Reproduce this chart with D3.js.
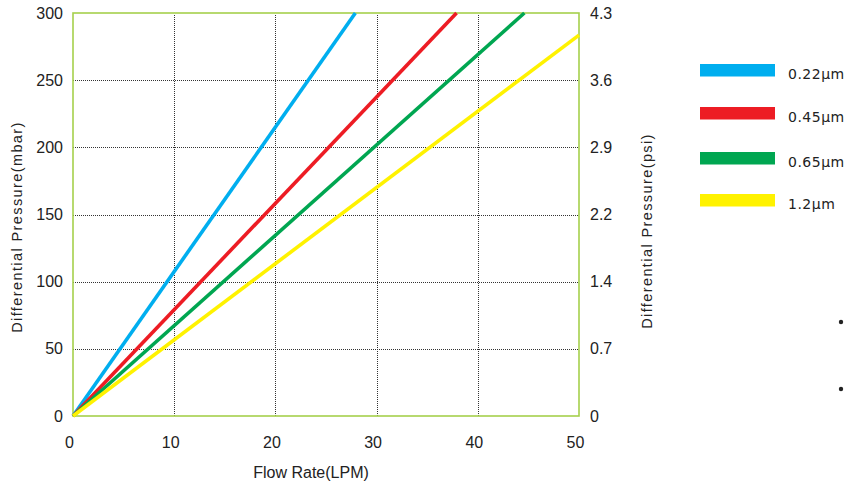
<!DOCTYPE html>
<html>
<head>
<meta charset="utf-8">
<script src="https://cdn.jsdelivr.net/npm/d3@7"></script>
<style>
  html, body { margin: 0; padding: 0; background: #fff; }
  svg { display: block; }
</style>
</head>
<body>
<svg id="chart" width="848" height="490"></svg>
<script>
// Flow rate (LPM) vs differential pressure (mbar) per filter pore size
const seriesNames = ["0.22μm", "0.45μm", "0.65μm", "1.2μm"];
const flow022 = [0, 27.9];   const dp022 = [0, 300];
const flow045 = [0, 37.9];   const dp045 = [0, 300];
const flow065 = [0, 44.6];   const dp065 = [0, 300];
const flow12  = [0, 50];     const dp12  = [0, 283.5];

const xTicks = [0, 10, 20, 30, 40, 50];
const yTicks = [0, 50, 100, 150, 200, 250, 300];
const psiLabels = ["0", "0.7", "1.4", "2.2", "2.9", "3.6", "4.3"];

const colors = ["#00aeef", "#ed1c24", "#00a651", "#fff200"];

const series = [
  { name: seriesNames[0], flow: flow022, dp: dp022 },
  { name: seriesNames[1], flow: flow045, dp: dp045 },
  { name: seriesNames[2], flow: flow065, dp: dp065 },
  { name: seriesNames[3], flow: flow12,  dp: dp12 }
];

const svg = d3.select("#chart");
const plotL = 73, plotR = 579, plotT = 13, plotB = 416;

const x = d3.scaleLinear().domain([0, 50]).range([plotL, plotR]);
const y = d3.scaleLinear().domain([0, 300]).range([plotB, plotT]);

const font = "'Liberation Sans', Arial, Helvetica, sans-serif";

// grid
const grid = svg.append("g");
grid.selectAll(".hg").data(yTicks.filter(v => v > 0 && v < 300)).enter()
  .append("line")
  .attr("x1", plotL).attr("x2", plotR)
  .attr("y1", d => Math.round(y(d)) + 0.5).attr("y2", d => Math.round(y(d)) + 0.5)
  .attr("stroke", "#333").attr("stroke-width", 1).attr("stroke-dasharray", "1,1");
grid.selectAll(".vg").data(xTicks.filter(v => v > 0 && v < 50)).enter()
  .append("line")
  .attr("y1", plotT + 2).attr("y2", plotB)
  .attr("x1", d => Math.round(x(d)) + 0.5).attr("x2", d => Math.round(x(d)) + 0.5)
  .attr("stroke", "#333").attr("stroke-width", 1).attr("stroke-dasharray", "1,1");

// frame
svg.append("rect")
  .attr("x", plotL).attr("y", plotT)
  .attr("width", plotR - plotL).attr("height", plotB - plotT)
  .attr("fill", "none").attr("stroke", "#a6d04c").attr("stroke-width", 1.6);

// lines
const line = d3.line().x(d => x(d[0])).y(d => y(d[1]));
svg.append("g").selectAll("path").data(series).enter()
  .append("path")
  .attr("d", s => line(s.flow.map((f, i) => [f, s.dp[i]])))
  .attr("fill", "none")
  .attr("stroke", (s, i) => colors[i])
  .attr("stroke-width", 3.6);

// axes
function styleAxis(g) {
  g.select(".domain").remove();
  g.selectAll("line").remove();
  g.selectAll("text").attr("font-family", font).attr("font-size", 16).attr("fill", "#222");
}
svg.append("g")
  .attr("transform", `translate(0,${plotB})`)
  .call(d3.axisBottom(x).tickValues(xTicks).tickSize(0).tickPadding(21).tickFormat(d3.format("d")))
  .call(styleAxis)
  .selectAll("text").attr("dx", -4);

svg.append("g")
  .attr("transform", `translate(${plotL},0)`)
  .call(d3.axisLeft(y).tickValues(yTicks).tickSize(0).tickPadding(10).tickFormat(d3.format("d")))
  .call(styleAxis);

svg.append("g")
  .attr("transform", `translate(${plotR},0)`)
  .call(d3.axisRight(y).tickValues(yTicks).tickSize(0).tickPadding(11)
    .tickFormat((d, i) => psiLabels[i]))
  .call(styleAxis);

// axis titles
svg.append("text")
  .attr("x", 311).attr("y", 478)
  .attr("text-anchor", "middle")
  .attr("font-family", font).attr("font-size", 16).attr("fill", "#222")
  .text("Flow Rate(LPM)");

svg.append("text")
  .attr("transform", "translate(22,227) rotate(-90)")
  .attr("text-anchor", "middle")
  .attr("font-family", font).attr("font-size", 14.5).attr("letter-spacing", 1.4)
  .attr("fill", "#222")
  .text("Differential Pressure(mbar)");

svg.append("text")
  .attr("transform", "translate(652,231) rotate(-90)")
  .attr("text-anchor", "middle")
  .attr("font-family", font).attr("font-size", 14.5).attr("letter-spacing", 1.4)
  .attr("fill", "#222")
  .text("Differential Pressure(psi)");

// legend
const legendTop = [64, 107, 152, 194];
const legend = svg.append("g").selectAll("g").data(series).enter()
  .append("g").attr("transform", (s, i) => `translate(700,${legendTop[i]})`);
legend.append("rect")
  .attr("width", 75).attr("height", 12.5)
  .attr("fill", (s, i) => colors[i]);
legend.append("text")
  .attr("x", 88).attr("y", 15)
  .attr("font-family", "'DejaVu Sans', Verdana, sans-serif")
  .attr("font-size", 14).attr("letter-spacing", 0.5).attr("fill", "#222")
  .text(s => s.name);

// small bullet marks at the right edge
svg.append("g").selectAll("circle").data([322, 389]).enter()
  .append("circle")
  .attr("cx", 841).attr("cy", d => d).attr("r", 2.2).attr("fill", "#222");
</script>
</body>
</html>
